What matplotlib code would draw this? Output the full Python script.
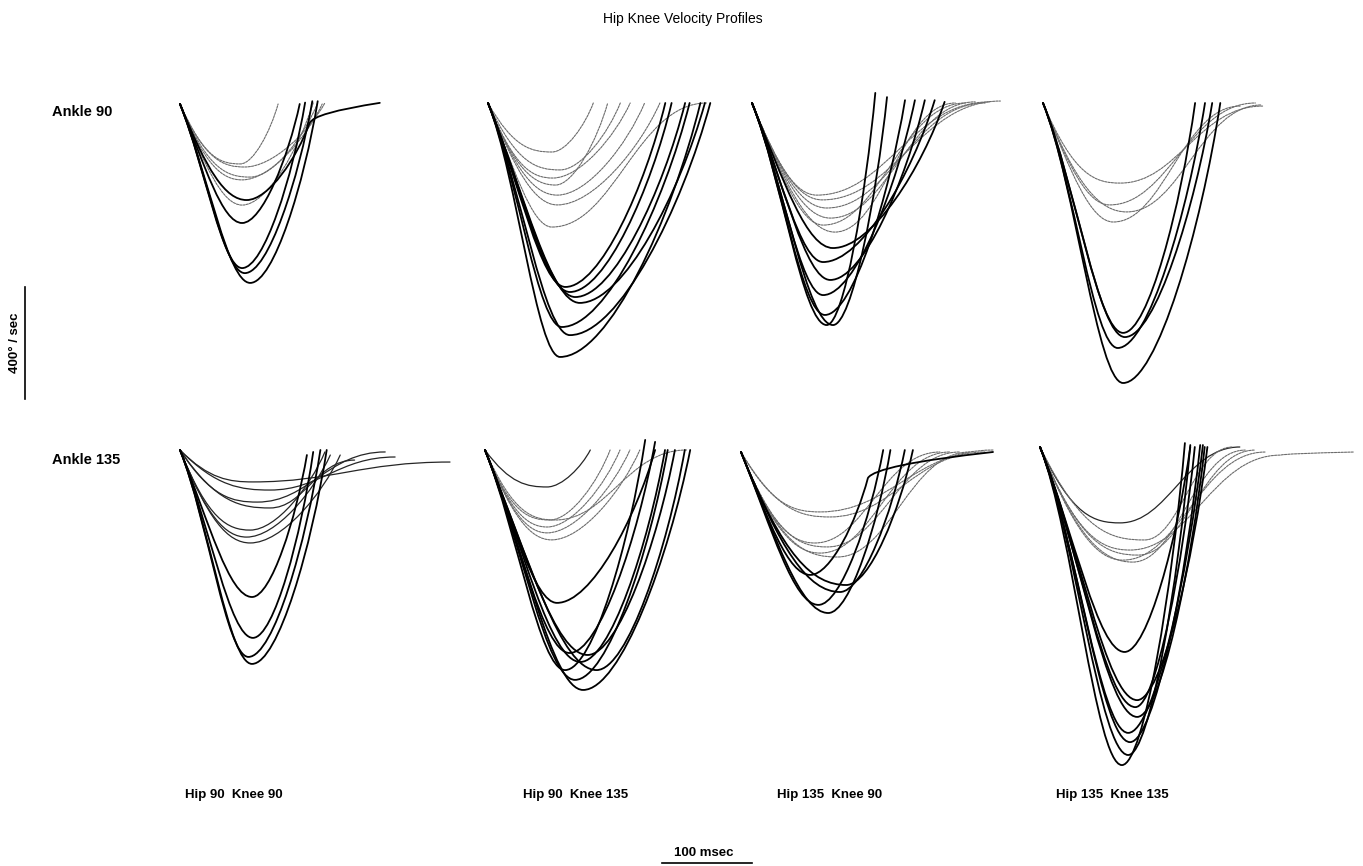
import numpy as np
import matplotlib
matplotlib.use("Agg")
import matplotlib.pyplot as plt
from matplotlib.path import Path
from matplotlib.patches import PathPatch
from matplotlib.lines import Line2D

# ---------------- data (msec, deg/sec; downward = negative velocity) ----------------
# Each curve: trough time / trough velocity, end time / end velocity, kind, optional tail point
# kind: 'k' black, 'd' dark thin, 'g' grey broken; suffix 'f' = flattening end

# Ankle 90, Hip 90 Knee 90
A_tm = [78, 72, 69, 69, 74, 67, 78, 69, 69, 72]
A_vm = [-639, -604, -586, -425, -343, -214, -261, -271, -361, -225]
A_te = [153, 147, 139, 133, 144, 109, 153, 158, 148, 161]
A_ve = [10, 10, 5, 0, -68, 0, 4, 0, 4, 4]
A_kind = ['k', 'k', 'k', 'k', 'k', 'g', 'g', 'g', 'g', 'g']
A_tail_t = [np.nan] * 4 + [222] + [np.nan] * 5
A_tail_v = [np.nan] * 4 + [4] + [np.nan] * 5

# Ankle 90, Hip 90 Knee 135
B_tm = [80, 91, 82, 102, 91, 86, 97, 71, 80, 72, 77, 77, 71, 75]
B_vm = [-907, -829, -800, -714, -675, -657, -693, -175, -239, -268, -329, -364, -443, -293]
B_te = [236, 247, 224, 241, 204, 197, 219, 117, 147, 158, 174, 191, 243, 133]
B_ve = [0] * 14
B_kind = ['k'] * 7 + ['g', 'g', 'g', 'g', 'g', 'gf', 'g']
B_tail_t = [np.nan] * 14
B_tail_v = [np.nan] * 14

# Ankle 90, Hip 135 Knee 90
C_tm = [83, 90, 81, 79, 87, 79, 90, 72, 78, 83, 87, 79, 92]
C_vm = [-793, -793, -757, -686, -632, -568, -518, -329, -346, -375, -411, -436, -461]
C_te = [137, 150, 170, 181, 192, 203, 214, 264, 276, 259, 248, 237, 226]
C_ve = [36, 21, 10, 10, 10, 10, 4, 4, 7, 0, 4, 0, 0]
C_kind = ['k'] * 7 + ['gf'] * 6
C_tail_t = [np.nan] * 13
C_tail_v = [np.nan] * 13

# Ankle 90, Hip 135 Knee 135
D_tm = [89, 83, 89, 91, 86, 74, 93, 78]
D_vm = [-1000, -875, -821, -836, -286, -364, -389, -425]
D_te = [197, 180, 169, 188, 244, 236, 243, 219]
D_ve = [0, 0, 0, 0, -11, 0, -7, -11]
D_kind = ['k'] * 4 + ['gf'] * 4
D_tail_t = [np.nan] * 8
D_tail_v = [np.nan] * 8

# Ankle 135, Hip 90 Knee 90
E_tm = [80, 76, 81, 80, 81, 100, 86, 100, 78, 74, 78]
E_vm = [-764, -739, -671, -525, -114, -143, -186, -207, -286, -311, -332]
E_te = [163, 156, 148, 141, 300, 239, 228, 194, 161, 167, 178]
E_ve = [0, 0, -7, -18, -43, -25, -7, -36, -7, -18, -18]
E_kind = ['k'] * 4 + ['df', 'df', 'df', 'df', 'd', 'd', 'd']
E_tail_t = [np.nan] * 11
E_tail_v = [np.nan] * 11

# Ankle 135, Hip 90 Knee 135
F_tm = [109, 89, 124, 106, 114, 94, 80, 100, 69, 72, 69, 69, 74, 78]
F_vm = [-857, -786, -786, -757, -732, -725, -546, -821, -132, -250, -275, -296, -321, -250]
F_te = [228, 178, 222, 200, 211, 189, 189, 203, 117, 139, 150, 161, 172, 224]
F_ve = [0, 36, 0, 0, 0, 29, 0, 0, 0, 0, 0, 0, 0, 0]
F_kind = ['k'] * 8 + ['d', 'g', 'g', 'g', 'g', 'gf']
F_tail_t = [np.nan] * 14
F_tail_v = [np.nan] * 14

# Ankle 135, Hip 135 Knee 90
G_tm = [97, 86, 110, 77, 117, 88, 99, 96, 88, 107, 82]
G_vm = [-575, -546, -500, -439, -475, -214, -232, -339, -361, -375, -325]
G_te = [166, 158, 182, 141, 191, 280, 271, 243, 232, 254, 221]
G_ve = [7, 7, 7, -93, 7, 7, 0, 0, 0, 0, 0]
G_kind = ['k'] * 5 + ['gf'] * 6
G_tail_t = [np.nan] * 3 + [280] + [np.nan] * 7
G_tail_v = [np.nan] * 3 + [0] + [np.nan] * 7

# Ankle 135, Hip 135 Knee 135
H_tm = [91, 98, 100, 98, 108, 106, 108, 94, 89, 100, 109, 92, 103, 116]
H_vm = [-1136, -1100, -1054, -1021, -964, -929, -904, -732, -271, -368, -386, -404, -411, -332]
H_te = [161, 167, 178, 181, 183, 172, 186, 167, 222, 267, 239, 250, 228, 214]
H_ve = [14, 7, 7, 7, 0, 0, 0, 0, 0, -29, -11, -18, -11, 0]
H_kind = ['k'] * 8 + ['df', 'gf', 'gf', 'gf', 'gf', 'gf']
H_tail_t = [np.nan] * 9 + [348] + [np.nan] * 4
H_tail_v = [np.nan] * 9 + [-18] + [np.nan] * 4

row_labels = ["Ankle 90", "Ankle 135"]
col_labels = ["Hip 90  Knee 90", "Hip 90  Knee 135", "Hip 135  Knee 90", "Hip 135  Knee 135"]
title = "Hip Knee Velocity Profiles"
scale_v = 400   # deg/sec
scale_t = 100   # msec

# ---------------- layout ----------------
FW, FH, DPI = 1363, 866, 100
PX_PER_MS = 0.9
PX_PER_DPS = 0.28
START_SLOPE = -8.0

fig = plt.figure(figsize=(FW / DPI, FH / DPI), dpi=DPI)
fig.patch.set_facecolor("white")
FONT = ["Liberation Sans", "DejaVu Sans"]

panels = [
    ((180, 104), A_tm, A_vm, A_te, A_ve, A_kind, A_tail_t, A_tail_v),
    ((488, 103), B_tm, B_vm, B_te, B_ve, B_kind, B_tail_t, B_tail_v),
    ((752, 103), C_tm, C_vm, C_te, C_ve, C_kind, C_tail_t, C_tail_v),
    ((1043, 103), D_tm, D_vm, D_te, D_ve, D_kind, D_tail_t, D_tail_v),
    ((180, 450), E_tm, E_vm, E_te, E_ve, E_kind, E_tail_t, E_tail_v),
    ((485, 450), F_tm, F_vm, F_te, F_ve, F_kind, F_tail_t, F_tail_v),
    ((741, 452), G_tm, G_vm, G_te, G_ve, G_kind, G_tail_t, G_tail_v),
    ((1040, 447), H_tm, H_vm, H_te, H_ve, H_kind, H_tail_t, H_tail_v),
]

STYLES = {
    'k': dict(edgecolor="black", linewidth=1.3, linestyle="-"),
    'd': dict(edgecolor="0.15", linewidth=0.9, linestyle="-"),
    'g': dict(edgecolor="0.42", linewidth=0.8, linestyle=(0, (2.0, 1.0))),
}


def curve_path(tm, vm, te, ve, kind, tt, vt):
    h1 = 0.4 * tm
    v1 = max(0.92 * vm, START_SLOPE * h1)
    verts = [(0, 0), (h1, v1), (0.68 * tm, vm), (tm, vm)]
    codes = [Path.MOVETO, Path.CURVE4, Path.CURVE4, Path.CURVE4]
    d = te - tm
    if kind.endswith('f'):
        verts += [(tm + 0.4 * d, vm), (te - 0.45 * d, ve), (te, ve)]
    else:
        verts += [(tm + 0.35 * d, vm), (te - 0.2 * d, ve - 0.45 * (ve - vm)), (te, ve)]
    codes += [Path.CURVE4] * 3
    if not np.isnan(tt):
        verts += [(te + 0.06 * (tt - te), ve + 0.5 * (vt - ve)), (tt, vt)]
        codes += [Path.CURVE3, Path.CURVE3]
    return Path(verts, codes)


for (x0, y0), tms, vms, tes, ves, kinds, tts, vts in panels:
    left, top, w, h = x0 - 10, y0 - 25, 420, 380
    ax = fig.add_axes([left / FW, 1 - (top + h) / FH, w / FW, h / FH])
    ax.set_xlim(-10 / PX_PER_MS, (w - 10) / PX_PER_MS)
    ax.set_ylim(-(h - 25) / PX_PER_DPS, 25 / PX_PER_DPS)
    ax.axis("off")
    ax.patch.set_visible(False)
    order = sorted(range(len(tms)), key=lambda i: kinds[i][0] == 'k')
    for i in order:
        style = STYLES[kinds[i][0]]
        p = curve_path(tms[i], vms[i], tes[i], ves[i], kinds[i], tts[i], vts[i])
        ax.add_patch(PathPatch(p, facecolor="none", capstyle="round",
                               joinstyle="round", **style))

# ---------------- text ----------------
def fx(px):
    return px / FW


def fy(py):
    return 1 - py / FH


fig.text(fx(683), fy(19), title, ha="center", va="center", fontsize=10, family=FONT)
for lab, py in zip(row_labels, [112, 460]):
    fig.text(fx(52), fy(py), lab, ha="left", va="center", fontsize=10.5,
             fontweight="bold", family=FONT)
for lab, px in zip(col_labels, [234, 576, 830, 1112]):
    fig.text(fx(px), fy(795), lab, ha="center", va="center", fontsize=9.5,
             fontweight="bold", family=FONT)

# vertical scale bar (400 deg/sec)
vb_x, vb_bottom = 25, 399
vb_len = scale_v * PX_PER_DPS
fig.add_artist(Line2D([fx(vb_x), fx(vb_x)], [fy(vb_bottom), fy(vb_bottom - vb_len)],
                      color="black", linewidth=1.2))
fig.text(fx(15), fy(vb_bottom - vb_len / 2), "400° / sec", rotation=90, ha="center",
         va="center", fontsize=9.5, fontweight="bold", family=FONT)

# horizontal scale bar (100 msec)
hb_center, hb_y = 707, 863
hb_len = scale_t * PX_PER_MS
fig.add_artist(Line2D([fx(hb_center - hb_len / 2), fx(hb_center + hb_len / 2)],
                      [fy(hb_y), fy(hb_y)], color="black", linewidth=1.2))
fig.text(fx(704), fy(853), "100 msec", ha="center", va="center", fontsize=9.5,
         fontweight="bold", family=FONT)

fig.savefig("out.png", dpi=DPI, facecolor="white")
